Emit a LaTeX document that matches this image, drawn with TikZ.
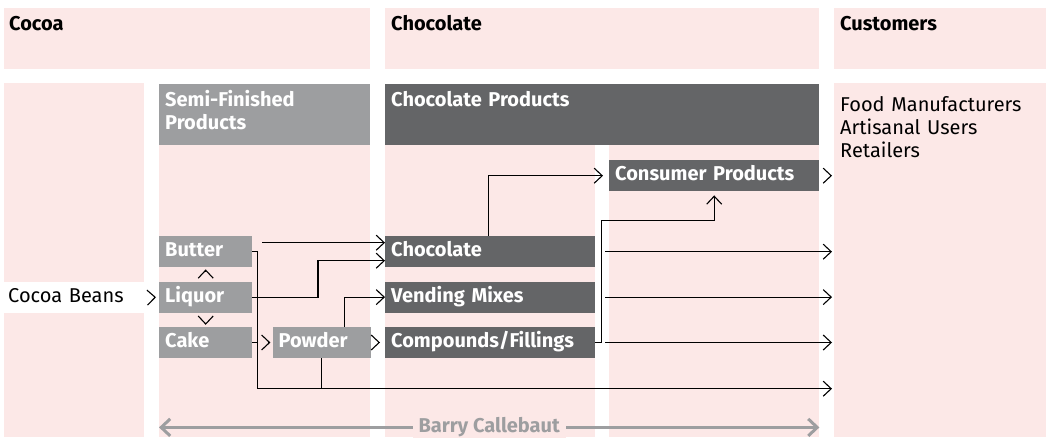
\documentclass[tikz,border=0pt]{standalone}
\usepackage{xcolor}
\usepackage{fontspec}
\setmainfont{Fira Sans}
\usetikzlibrary{arrows.meta, calc, positioning}
\definecolor{cbpink}{HTML}{FCE8E7}
\definecolor{cbdark}{HTML}{646567}
\definecolor{cblight}{HTML}{9D9EA0}
\newcommand{\cbfont}{\fontsize{20}{23}\selectfont}

\begin{document}
\begin{tikzpicture}[
    x=1pt, y=-1pt,
    >={Straight Barb[length=8pt, width=15pt]},
    band/.style ={fill=cbpink, anchor=north west, inner sep=0pt},
    title/.style={anchor=base west, inner sep=0pt, font=\cbfont\bfseries},
    head/.style ={anchor=north west, text=white, align=left, inner xsep=6pt,
                  inner ysep=6pt, text height=16pt, text depth=33pt,
                  font=\cbfont\bfseries},
    item/.style ={text=white, inner xsep=6pt, inner ysep=0pt, minimum height=31pt,
                  text height=14pt, text depth=4pt, font=\cbfont\bfseries},
    semi/.style ={item, fill=cblight, text width=81pt},
    prod/.style ={item, fill=cbdark, text width=198pt},
    flow/.style ={->, line width=1.1pt},
    link/.style ={line width=1.1pt},
    bcline/.style={<->, >={Straight Barb[length=9pt, width=17pt]},
                  draw=cblight, line width=3pt},
]
\useasboundingbox (0,0) rectangle (1046,437);
% pink columns
\node[band, minimum width=366pt, minimum height=61pt] (cocoatop) at (4,8) {};
\node[band, minimum width=434pt, minimum height=61pt] (choctop)  at (385,8) {};
\node[band, minimum width=212pt, minimum height=61pt] (custtop)  at (834,8) {};
\node[band, minimum width=140pt, minimum height=354pt] (beancol)  at (4,83) {};
\node[band, minimum width=211pt, minimum height=353pt] (semicol)  at (159,84) {};
\node[band, minimum width=210pt, minimum height=353pt] (choccol)  at (385,84) {};
\node[band, minimum width=210pt, minimum height=353pt] (conscol)  at (609,84) {};
\node[band, minimum width=212pt, minimum height=354pt] (custband) at (834,83) {};

\node[title] (cocoatitle) at ($(cocoatop.north west)+(5,22)$) {Cocoa};
\node[title] (choctitle)  at ($(choctop.north west)+(6,22)$)  {Chocolate};
\node[title] (custtitle)  at ($(custtop.north west)+(6,22)$)  {Customers};

\node[head, fill=cblight, text width=199pt] (semihead) at (159,84) {Semi-Finished\\Products};
\node[head, fill=cbdark, text width=422pt]  (prodhead) at (385,84) {Chocolate Products};
\node[anchor=north west, align=left, inner sep=0pt, text width=200pt, text height=14pt, font=\cbfont]
   (custlist) at ($(custband.north west)+(6,14)$) {Food Manufacturers\\Artisanal Users\\Retailers};

\node[anchor=north west, fill=white, inner xsep=4pt, inner ysep=0pt, text width=132pt,
      minimum height=31pt, text height=14pt, text depth=4pt, font=\cbfont] (beans) at (4,282) {Cocoa Beans};
\node[semi, anchor=north west] (butter) at (159,236) {Butter};
\node[semi, below=14pt of butter] (liquor) {Liquor};
\node[semi, below=14pt of liquor] (cake) {Cake};
\node[semi, text width=86pt, right=20pt of cake] (powder) {Powder};
\node[prod, anchor=north west] (chocolate) at (385,236) {Chocolate};
\node[prod, below=14pt of chocolate] (vending) {Vending Mixes};
\node[prod, below=14pt of vending] (compounds) {Compounds/Fillings};
\node[prod, anchor=north west] (consumer) at (609,160) {Consumer Products};

\coordinate (low) at ($(butter.east)+(5,137)$);
\coordinate (chochigh) at ($(chocolate.west)+(0,-9)$);
\coordinate (choclow) at ($(chocolate.west)+(0,9)$);
\coordinate (cpbend) at ($(consumer.south)+(0,29)$);

\draw[flow, shorten <=10pt, shorten >=3pt] (beans.east) -- (liquor.west);
\draw[flow, shorten <=10pt, shorten >=2pt] (liquor.north) -- (butter.south);
\draw[flow, shorten <=10pt, shorten >=2pt] (liquor.south) -- (cake.north);
\draw[flow, shorten <=16pt, shorten >=2pt] (cake.east) -- (powder.west);
\draw[flow, shorten <=8pt, shorten >=5pt] (powder.east) -- (compounds.west);

\draw[flow, shorten >=2pt] (butter.east) -| (low) -- (low -| custband.west);
\draw[link] (cake.east) -- (cake.east -| low);
\draw[link] (powder.south) -- (powder.south |- low);
\draw[flow, shorten <=10pt] (butter.east |- chochigh) -- (chochigh);
\draw[flow] (liquor.east) -| ($(choclow)+(-67,0)$) -- (choclow);
\draw[flow] ($(powder.north)+(23,0)$) |- (vending.west);

\draw[flow, shorten >=6pt] ($(chocolate.north)+(-2,0)$) |- (consumer.west);
\draw[flow, shorten >=4pt] (compounds.east) -- ++(6,0) |- (cpbend) -- (consumer.south);
\foreach \n in {chocolate, vending, compounds}
  \draw[flow, shorten <=10pt, shorten >=2pt] (\n.east) -- (\n.east -| custband.west);
\draw[flow, shorten <=11pt, shorten >=2pt] (consumer.east) -- (consumer.east -| custband.west);

\draw[bcline] ($(semicol.south west)+(0,-10)$) -- 
  node[anchor=base, yshift=-5pt, fill=cbpink, inner xsep=6pt, text=cblight, font=\cbfont\bfseries] (bc) {Barry Callebaut}
  ($(conscol.south east)+(0,-10)$);
\end{tikzpicture}
\end{document}
